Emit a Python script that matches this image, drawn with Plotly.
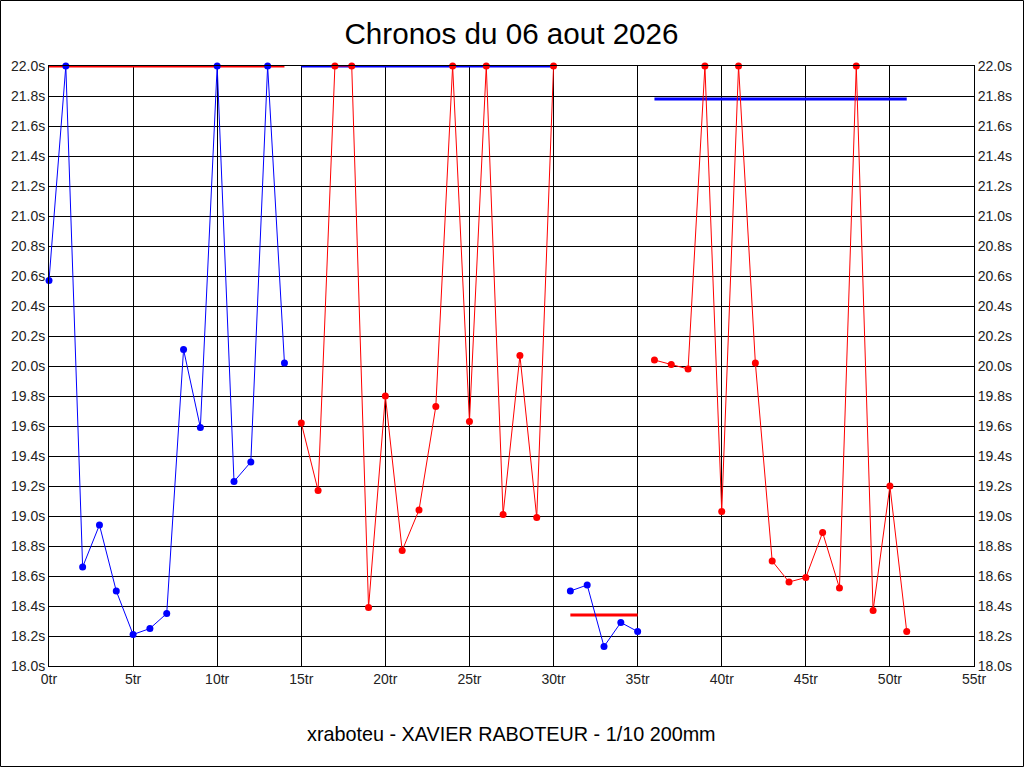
import plotly.graph_objects as go

# lap times per run (values above 22.0s are shown clipped at 22.0)
laps_a = list(range(0, 15))
times_a = [20.57, 22.0, 18.66, 18.94, 18.50, 18.21, 18.25, 18.35, 20.11, 19.59, 22.0, 19.23, 19.36, 22.0, 20.02]
laps_b = list(range(15, 31))
times_b = [19.62, 19.17, 22.0, 22.0, 18.39, 19.80, 18.77, 19.04, 19.73, 22.0, 19.63, 22.0, 19.01, 20.07, 18.99, 22.0]
laps_c = list(range(31, 36))
times_c = [18.50, 18.54, 18.13, 18.29, 18.23]
laps_d = list(range(36, 52))
times_d = [20.04, 20.01, 19.98, 22.0, 19.03, 22.0, 20.02, 18.70, 18.56, 18.59, 18.89, 18.52, 22.0, 18.37, 19.20, 18.23]

# average per run
averages = [22.0, 22.0, 18.34, 21.78]

runs = [(laps_a, times_a), (laps_b, times_b), (laps_c, times_c), (laps_d, times_d)]
run_colors = ["#0000ff", "#ff0000", "#0000ff", "#ff0000"]
avg_colors = ["#ff0000", "#0000ff", "#ff0000", "#0000ff"]

W, H = 1024, 768
L, R, T, B = 49, 50, 66, 102
pw, ph = W - L - R, H - T - B

fig = go.Figure()

# average lines (below the runs)
for (laps, times), avg, col in zip(runs, averages, avg_colors):
    fig.add_trace(go.Scatter(
        x=[laps[0], laps[-1]], y=[avg, avg], mode="lines",
        line=dict(color=col, width=3), cliponaxis=False,
        showlegend=False, hoverinfo="skip", yaxis="y",
    ))

# lap times, drawn on the overlaid right axis so they sit on top
for (laps, times), col in zip(runs, run_colors):
    fig.add_trace(go.Scatter(
        x=laps, y=times, mode="lines+markers",
        line=dict(color=col, width=1),
        marker=dict(color=col, size=7),
        cliponaxis=False, showlegend=False, yaxis="y2",
    ))

font_name = "Liberation Sans, Arial, sans-serif"
tick_font = dict(family=font_name, size=14, color="#222222")

fig.update_layout(
    width=W, height=H,
    margin=dict(l=L, r=R, t=T, b=B),
    paper_bgcolor="white", plot_bgcolor="white",
    title=dict(
        text="Chronos du 06 aout 2026",
        x=0.5, xanchor="center", xref="paper",
        y=1 - 34 / H, yanchor="middle", yref="container",
        font=dict(family=font_name, size=29.6, color="black"),
    ),
    xaxis=dict(
        range=[0, 55], dtick=5, tick0=0, ticksuffix="tr",
        showgrid=True, gridcolor="black", gridwidth=1,
        showline=True, linecolor="black", linewidth=1, mirror=True,
        zeroline=False, ticks="", tickfont=tick_font,
    ),
    yaxis=dict(
        range=[18, 22], dtick=0.2, tick0=18, tickformat=".1f", ticksuffix="s",
        showgrid=True, gridcolor="black", gridwidth=1,
        showline=True, linecolor="black", linewidth=1,
        zeroline=False, ticks="", tickfont=tick_font,
    ),
    yaxis2=dict(
        range=[18, 22], dtick=0.2, tick0=18, tickformat=".1f", ticksuffix="s",
        overlaying="y", side="right",
        showgrid=False, showline=True, linecolor="black", linewidth=1,
        zeroline=False, ticks="", tickfont=tick_font,
    ),
    annotations=[dict(
        text="xraboteu - XAVIER RABOTEUR - 1/10 200mm",
        xref="paper", yref="paper", x=0.5, y=-(734 - (T + ph)) / ph,
        xanchor="center", yanchor="middle", showarrow=False,
        font=dict(family=font_name, size=19.8, color="black"),
    )],
    shapes=[dict(
        type="rect", xref="paper", yref="paper",
        x0=(0.5 - L) / pw, x1=(W - 0.5 - L) / pw,
        y0=-(H - 1.5 - T - ph) / ph, y1=(T - 0.5) / ph + 1,
        line=dict(color="black", width=1),
    )],
)

# drop the page's default body margin so the figure sits at the window corner
fig.write_html(
    "out.html",
    config={"displayModeBar": False},
    post_script="document.body.style.margin='0';",
)
